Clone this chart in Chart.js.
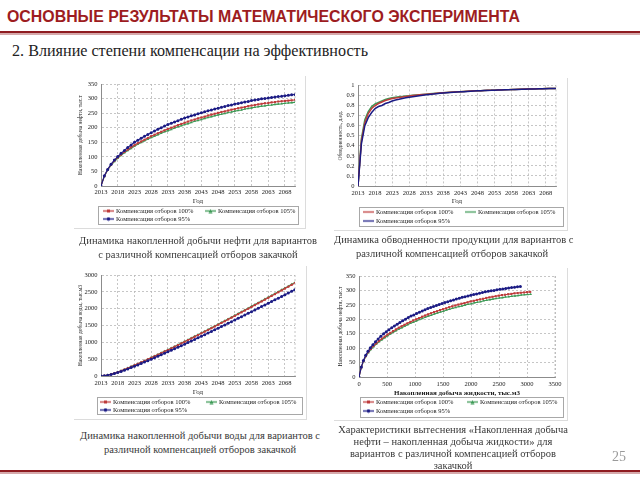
<!DOCTYPE html>
<html>
<head>
<meta charset="utf-8">
<script src="https://cdn.jsdelivr.net/npm/chart.js@4.4.1/dist/chart.umd.min.js"></script>
<style>
  body { margin: 0; width: 640px; height: 480px; position: relative; overflow: hidden; background: #fff; }
  .abs { position: absolute; white-space: nowrap; transform-origin: 0 0; }
  #title { left: 7px; top: 8px; font-weight: bold; font-size: 16px; line-height: 18px; color: #9d1c21; }
  .rule { position: absolute; left: 0; width: 640px; height: 2px; background: #8f1b20; }
  .rule2 { position: absolute; left: 0; width: 640px; height: 2px; background: #d6a9ab; }
  #sub { left: 12px; top: 42px; font-size: 16px; line-height: 18px; color: #222; }
  .box { position: absolute; border-right: 1px solid #dcdcdc; border-bottom: 1px solid #dcdcdc; }
  .cap { position: absolute; text-align: center; font-size: 10.5px; color: #3a3a3a; white-space: nowrap; }
  canvas { position: absolute; }
  #page { left: 612px; top: 449px; font-size: 14px; color: #9a9a9a; }
</style>
</head>
<body>
<div id="title" class="abs" data-w="513" style="font-family:'Liberation Sans'">ОСНОВНЫЕ РЕЗУЛЬТАТЫ МАТЕМАТИЧЕСКОГО ЭКСПЕРИМЕНТА</div>
<div class="rule" style="top:31px"></div>
<div class="rule2" style="top:33px"></div>
<div id="sub" class="abs" data-w="356" style="font-family:'Liberation Serif'">2. Влияние степени компенсации на эффективность</div>

<div class="box" style="left:74px;top:76px;width:231px;height:152px"></div>
<div class="box" style="left:334px;top:78px;width:233px;height:152px"></div>
<div class="box" style="left:74px;top:266px;width:232px;height:153px"></div>
<div class="box" style="left:334px;top:268px;width:233px;height:152px"></div>

<canvas id="oilChart" width="232" height="160" style="left:74px;top:76px"></canvas>
<canvas id="cutChart" width="234" height="160" style="left:334px;top:78px"></canvas>
<canvas id="waterChart" width="232" height="160" style="left:74px;top:266px"></canvas>
<canvas id="liquidChart" width="234" height="160" style="left:334px;top:268px"></canvas>

<div class="cap" style="font-family:'Liberation Serif';left:78px;top:234px;width:240px;line-height:13.5px">Динамика накопленной добычи нефти для вариантов<br>с различной компенсацией отборов закачкой</div>
<div class="cap" style="font-family:'Liberation Serif';left:334px;top:233px;width:236px;line-height:13.5px">Динамика обводненности продукции для вариантов с<br>различной компенсацией отборов закачкой</div>
<div class="cap" style="font-family:'Liberation Serif';left:80px;top:429px;width:240px;line-height:13.5px">Динамика накопленной добычи воды для вариантов с<br>различной компенсацией отборов закачкой</div>
<div class="cap" style="font-family:'Liberation Serif';left:335px;top:424px;width:236px;line-height:12px">Характеристики вытеснения «Накопленная добыча<br>нефти – накопленная добыча жидкости» для<br>вариантов с различной компенсацией отборов<br>закачкой</div>

<div id="page" class="abs" style="font-family:'Liberation Serif'">25</div>
<div class="rule" style="top:470px"></div>
<div class="rule2" style="top:472px"></div>

<script>
const years = [
  2013, 2014, 2015, 2016, 2017, 2018, 2019, 2020, 2021, 2022,
  2023, 2024, 2025, 2026, 2027, 2028, 2029, 2030, 2031, 2032,
  2033, 2034, 2035, 2036, 2037, 2038, 2039, 2040, 2041, 2042,
  2043, 2044, 2045, 2046, 2047, 2048, 2049, 2050, 2051, 2052,
  2053, 2054, 2055, 2056, 2057, 2058, 2059, 2060, 2061, 2062,
  2063, 2064, 2065, 2066, 2067, 2068, 2069, 2070, 2071
];
const yearTicks = [2013, 2018, 2023, 2028, 2033, 2038, 2043, 2048, 2053, 2058, 2063, 2068];

const seriesNames = ['Компенсация отборов 100%', 'Компенсация отборов 105%', 'Компенсация отборов 95%'];

// cumulative oil, thousand t
const oil100 = [
  0, 34, 56, 73, 87, 98, 108, 117, 125, 133,
  140, 147, 153, 159, 165, 171, 176, 181, 186, 191,
  196, 200, 204, 209, 213, 217, 221, 225, 228, 232,
  235, 238, 242, 245, 248, 251, 254, 256, 259, 262,
  264, 267, 269, 271, 274, 276, 278, 280, 282, 284,
  285, 287, 288, 290, 291, 292, 293, 294, 295
];
const oil105 = [
  0, 33, 55, 71, 84, 95, 105, 114, 122, 129,
  136, 143, 149, 155, 160, 166, 171, 176, 181, 186,
  190, 194, 199, 203, 207, 211, 214, 218, 222, 225,
  228, 232, 235, 238, 241, 244, 246, 249, 252, 254,
  257, 259, 261, 264, 266, 268, 270, 272, 274, 275,
  277, 278, 280, 281, 282, 284, 285, 286, 287
];
const oil95 = [
  0, 35, 57, 75, 89, 101, 112, 122, 132, 141,
  150, 157, 164, 171, 177, 183, 189, 195, 200, 206,
  211, 215, 220, 224, 229, 233, 237, 241, 244, 248,
  251, 255, 258, 261, 264, 267, 270, 273, 276, 278,
  281, 283, 286, 288, 290, 293, 295, 297, 299, 300,
  302, 304, 305, 307, 308, 310, 311, 313, 314
];

// water cut, fraction
const cut100 = [
  0, 0.45, 0.63, 0.72, 0.77, 0.80, 0.82, 0.835, 0.85, 0.86,
  0.87, 0.875, 0.88, 0.885, 0.89, 0.895, 0.90, 0.903, 0.906, 0.909,
  0.912, 0.915, 0.918, 0.921, 0.924, 0.927, 0.93, 0.932, 0.934, 0.936,
  0.938, 0.94, 0.942, 0.944, 0.946, 0.947, 0.948, 0.95, 0.951, 0.952,
  0.953, 0.955, 0.956, 0.957, 0.958, 0.959, 0.96, 0.961, 0.962, 0.963,
  0.964, 0.965, 0.966, 0.966, 0.967, 0.968, 0.968, 0.969, 0.97
];
const cut105 = [
  0, 0.47, 0.66, 0.74, 0.79, 0.815, 0.83, 0.845, 0.86, 0.87,
  0.877, 0.882, 0.886, 0.89, 0.894, 0.898, 0.901, 0.904, 0.907, 0.91,
  0.913, 0.916, 0.919, 0.922, 0.925, 0.928, 0.93, 0.932, 0.934, 0.936,
  0.938, 0.94, 0.942, 0.944, 0.946, 0.947, 0.948, 0.95, 0.951, 0.952,
  0.953, 0.955, 0.956, 0.957, 0.958, 0.959, 0.96, 0.961, 0.962, 0.963,
  0.964, 0.965, 0.966, 0.966, 0.967, 0.968, 0.968, 0.969, 0.97
];
const cut95 = [
  0, 0.42, 0.60, 0.68, 0.73, 0.77, 0.79, 0.80, 0.82, 0.83,
  0.845, 0.855, 0.862, 0.87, 0.877, 0.883, 0.888, 0.893, 0.898, 0.902,
  0.906, 0.91, 0.914, 0.918, 0.921, 0.924, 0.927, 0.93, 0.932, 0.934,
  0.936, 0.938, 0.94, 0.942, 0.944, 0.946, 0.947, 0.949, 0.95, 0.951,
  0.953, 0.954, 0.955, 0.956, 0.957, 0.958, 0.959, 0.96, 0.961, 0.962,
  0.963, 0.964, 0.965, 0.966, 0.967, 0.967, 0.968, 0.969, 0.97
];

// cumulative water, thousand m3
const water100 = [
  0, 8, 25, 50, 80, 115, 152, 192, 233, 275,
  318, 361, 405, 449, 494, 539, 585, 631, 678, 725,
  772, 820, 868, 917, 966, 1015, 1065, 1115, 1165, 1215,
  1266, 1317, 1368, 1419, 1471, 1523, 1575, 1627, 1679, 1732,
  1785, 1838, 1891, 1944, 1998, 2052, 2106, 2160, 2214, 2268,
  2322, 2377, 2432, 2487, 2542, 2597, 2652, 2707, 2762
];
const water105 = [
  0, 8, 26, 51, 82, 117, 155, 195, 237, 280,
  323, 367, 411, 456, 501, 547, 593, 640, 687, 734,
  782, 830, 879, 928, 977, 1027, 1077, 1127, 1178, 1229,
  1280, 1331, 1382, 1434, 1486, 1538, 1590, 1642, 1695, 1748,
  1801, 1854, 1907, 1961, 2015, 2069, 2123, 2177, 2231, 2285,
  2339, 2394, 2449, 2504, 2559, 2614, 2669, 2724, 2779
];
const water95 = [
  0, 7, 22, 44, 71, 102, 136, 172, 210, 249,
  289, 330, 371, 413, 455, 498, 541, 585, 629, 673,
  718, 763, 808, 854, 900, 946, 992, 1039, 1086, 1133,
  1180, 1228, 1276, 1324, 1372, 1420, 1468, 1517, 1566, 1615,
  1664, 1713, 1762, 1811, 1861, 1911, 1961, 2011, 2061, 2111,
  2161, 2211, 2262, 2313, 2364, 2415, 2466, 2517, 2568
];

const looks = [
  { color: '#be3b3b', marker: 'rect' },
  { color: '#3d9a56', marker: 'triangle' },
  { color: '#1b1b84', marker: 'circle' }
];

// stretch the heading lines to the width they take on the slide
document.querySelectorAll('[data-w]').forEach(el => {
  const w = el.getBoundingClientRect().width;
  el.style.transform = 'scaleX(' + (+el.dataset.w / w) + ')';
});

const serif = "'Liberation Serif', serif";
Chart.defaults.font.family = serif;
Chart.defaults.color = '#222';
Chart.defaults.animation = false;

const pairs = (xs, ys) => xs.map((x, i) => ({ x: x, y: ys[i] }));
const plain = v => String(v);
const oneDecimal = v => String(Math.round(v * 10) / 10);

// small line+marker sample like the Excel legend
function legendIcon(color, marker) {
  const c = document.createElement('canvas');
  c.width = 11; c.height = 5;
  const g = c.getContext('2d');
  g.strokeStyle = color; g.fillStyle = color; g.lineWidth = 1.3;
  g.beginPath(); g.moveTo(0, 2.5); g.lineTo(11, 2.5); g.stroke();
  if (marker === 'rect') g.fillRect(4, 1, 3, 3);
  if (marker === 'circle') { g.beginPath(); g.arc(5.5, 2.5, 1.8, 0, 7); g.fill(); }
  if (marker === 'triangle') { g.beginPath(); g.moveTo(5.5, 0.5); g.lineTo(7.5, 4.5); g.lineTo(3.5, 4.5); g.closePath(); g.fill(); }
  return c;
}

function makeDatasets(xsList, ysList, withMarkers) {
  return ysList.map((ys, i) => ({
    label: seriesNames[i],
    data: pairs(xsList[i], ys),
    showLine: true,
    borderColor: looks[i].color,
    backgroundColor: looks[i].color,
    borderWidth: withMarkers ? 1.1 : 1.5,
    pointStyle: looks[i].marker,
    pointRadius: withMarkers ? 1.5 : 0,
    pointBorderWidth: 0,
    order: i === 2 ? 0 : i + 1
  }));
}

// two-column framed legend under the plot (Excel style) and the dashed right edge
const frames = {
  id: 'frames',
  afterDraw(chart, args, o) {
    const ctx = chart.ctx, a = chart.chartArea;
    ctx.save();
    ctx.strokeStyle = '#b5b5b5'; ctx.lineWidth = 0.8; ctx.setLineDash([2, 2]);
    ctx.beginPath(); ctx.moveTo(a.right, a.top); ctx.lineTo(a.right, a.bottom); ctx.stroke();
    ctx.setLineDash([]);
    ctx.font = '6.5px ' + serif;
    ctx.textBaseline = 'middle';
    ctx.fillStyle = '#222';
    chart.data.datasets.forEach((ds, i) => {
      const x = o.legendX + (i % 2) * o.colWidth;
      const y = o.legendY + Math.floor(i / 2) * o.rowGap;
      ctx.drawImage(legendIcon(ds.borderColor, o.markers ? ds.pointStyle : null), x, y - 2.5);
      ctx.fillText(ds.label, x + 13, y);
    });
    ctx.strokeStyle = '#a8a8a8'; ctx.lineWidth = 1;
    ctx.strokeRect(o.box[0] + 0.5, o.box[1] + 0.5, o.box[2], o.box[3]);
    ctx.restore();
  }
};

function scale(opts, fit, title) {
  const s = {
    type: 'linear',
    min: opts.min, max: opts.max,
    grid: { color: '#b8b8b8', lineWidth: 0.8, drawTicks: false },
    border: { display: true, color: '#8c8c8c', width: 1, dash: [2, 2] },
    ticks: { font: { size: 6.5 }, padding: opts.pad, autoSkip: false, maxRotation: 0, callback: opts.cb },
    title: title,
    afterFit: fit
  };
  if (opts.step) s.ticks.stepSize = opts.step;
  if (opts.fixed) s.afterBuildTicks = axis => { axis.ticks = opts.fixed.map(v => ({ value: v })); };
  return s;
}

function build(id, box, datasets, xOpts, yOpts, xTitle, yTitle, withMarkers) {
  const H = 160;
  return new Chart(document.getElementById(id), {
    type: 'scatter',
    data: { datasets: datasets },
    plugins: [frames],
    options: {
      responsive: false,
      layout: { padding: { left: 0, right: box.w - box.right, top: box.top, bottom: H - box.bottom - box.xh } },
      scales: {
        x: scale(xOpts, s => { s.height = box.xh; },
          { display: true, text: xTitle, font: { size: 7, weight: xOpts.boldTitle ? 'bold' : 'normal' }, padding: 0 }),
        y: scale(yOpts, s => { s.width = box.left; },
          { display: true, text: yTitle, font: { size: 5.5 }, padding: { top: 3, bottom: 0 } })
      },
      plugins: {
        tooltip: { enabled: false },
        legend: { display: false },
        frames: {
          legendX: box.legendX, legendY: box.legendY, colWidth: box.colWidth, rowGap: box.rowGap,
          box: box.frame, markers: withMarkers
        }
      }
    }
  });
}

const yearsAll = [years, years, years];

build('oilChart',
  { w: 232, left: 27, right: 221, top: 8, bottom: 110, xh: 19,
    legendX: 29, legendY: 135, colWidth: 102, rowGap: 8, frame: [24, 130, 200, 18] },
  makeDatasets(yearsAll, [oil100, oil105, oil95], true),
  { min: 2013, max: 2071, fixed: yearTicks, pad: 2.5, cb: plain },
  { min: 0, max: 350, step: 50, pad: 3.5, cb: plain },
  'Год', 'Накопленная добыча нефти, тыс.т', true);

build('cutChart',
  { w: 234, left: 24, right: 222, top: 7, bottom: 108, xh: 19,
    legendX: 29, legendY: 134, colWidth: 102, rowGap: 9, frame: [25, 129, 204, 19] },
  makeDatasets(yearsAll, [cut100, cut105, cut95], false),
  { min: 2013, max: 2071, fixed: yearTicks, pad: 3, cb: plain },
  { min: 0, max: 1, step: 0.1, pad: 3.5, cb: oneDecimal },
  'Год', 'Обводненность, д.ед.', false);

build('waterChart',
  { w: 232, left: 27, right: 221, top: 9, bottom: 110, xh: 20,
    legendX: 26, legendY: 136, colWidth: 106, rowGap: 8, frame: [23, 131, 205, 17] },
  makeDatasets(yearsAll, [water100, water105, water95], true),
  { min: 2013, max: 2071, fixed: yearTicks, pad: 3, cb: plain },
  { min: 0, max: 3000, step: 500, pad: 3.5, cb: plain },
  'Год', 'Накопленная добыча воды, тыс.м3', true);

// cumulative liquid = cumulative oil + cumulative water
const liquid100 = oil100.map((v, i) => v + water100[i]);
const liquid105 = oil105.map((v, i) => v + water105[i]);
const liquid95 = oil95.map((v, i) => v + water95[i]);

build('liquidChart',
  { w: 234, left: 25, right: 221, top: 8, bottom: 109, xh: 20,
    legendX: 29, legendY: 134, colWidth: 104, rowGap: 9, frame: [26, 129, 203, 20] },
  makeDatasets([liquid100, liquid105, liquid95], [oil100, oil105, oil95], true),
  { min: 0, max: 3500, step: 500, pad: 3, cb: plain, boldTitle: true },
  { min: 0, max: 350, step: 50, pad: 3.5, cb: plain },
  'Накопленная добыча жидкости, тыс.м3', 'Накопленная добыча нефти, тыс.т', true);
</script>
</body>
</html>
